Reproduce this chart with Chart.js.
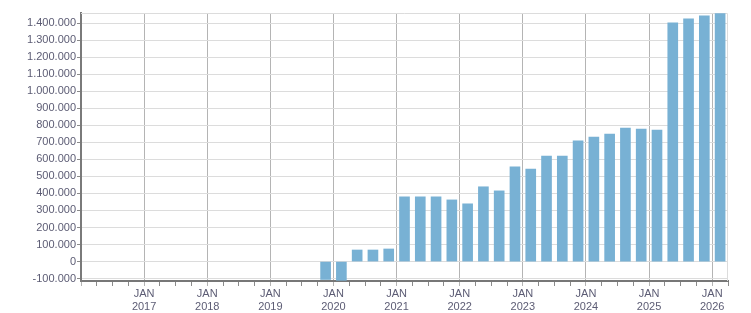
<!DOCTYPE html>
<html>
<head>
<meta charset="utf-8">
<script src="https://cdn.jsdelivr.net/npm/chart.js@4/dist/chart.umd.min.js"></script>
<style>
  html, body { margin: 0; padding: 0; background: #ffffff; }
  #wrap { width: 751px; height: 313px; position: relative; }
</style>
</head>
<body>
<div id="wrap"><canvas id="chart"></canvas></div>
<script>
  // quarterly values
  const quarters = [
    "2019-Q4",
    "2020-Q1", "2020-Q2", "2020-Q3", "2020-Q4",
    "2021-Q1", "2021-Q2", "2021-Q3", "2021-Q4",
    "2022-Q1", "2022-Q2", "2022-Q3", "2022-Q4",
    "2023-Q1", "2023-Q2", "2023-Q3", "2023-Q4",
    "2024-Q1", "2024-Q2", "2024-Q3", "2024-Q4",
    "2025-Q1", "2025-Q2", "2025-Q3", "2025-Q4",
    "2026-Q1"
  ];
  const values = [
    -105000,
    -110000, 68000, 68000, 74000,
    380000, 380000, 380000, 362000,
    339000, 439000, 415000, 556000,
    543000, 619000, 619000, 708000,
    731000, 749000, 784000, 778000,
    772000, 1402000, 1425000, 1443000,
    1455000
  ];
  const yearLabels = [2017, 2018, 2019, 2020, 2021, 2022, 2023, 2024, 2025, 2026];
  const monthLabel = "JAN";
  const yTickValues = [
    -100000, 0, 100000, 200000, 300000, 400000, 500000, 600000,
    700000, 800000, 900000, 1000000, 1100000, 1200000, 1300000, 1400000
  ];

  const textColor = "#5c5c74";
  const font = { family: "Liberation Sans", size: 11 };

  function quarterMid(label) {
    const [year, q] = label.split("-Q");
    return Number(year) + (Number(q) - 1) * 0.25 + 0.125;
  }

  function formatThousands(value) {
    const sign = value < 0 ? "-" : "";
    return sign + String(Math.abs(Math.round(value))).replace(/\B(?=(\d{3})+(?!\d))/g, ".");
  }

  const isYear = (v) => Math.abs(v - Math.round(v)) < 1e-9;

  const framePlugin = {
    id: "frame",
    beforeDatasetsDraw(chart) {
      const { ctx, chartArea } = chart;
      ctx.save();
      ctx.strokeStyle = "#dcdcdc";
      ctx.lineWidth = 1;
      ctx.beginPath();
      ctx.moveTo(chartArea.left, chartArea.top + 0.5);
      ctx.lineTo(chartArea.right - 0.5, chartArea.top + 0.5);
      ctx.lineTo(chartArea.right - 0.5, chartArea.bottom);
      ctx.stroke();
      ctx.restore();
    }
  };

  new Chart(document.getElementById("chart"), {
    type: "bar",
    data: {
      datasets: [
        {
          data: quarters.map((q, i) => ({ x: quarterMid(q), y: values[i] })),
          backgroundColor: "#78b1d4",
          borderWidth: 0,
          barThickness: 10
        }
      ]
    },
    options: {
      responsive: true,
      maintainAspectRatio: false,
      animation: false,
      layout: { padding: { top: 13, right: 23, left: 0, bottom: 0 } },
      plugins: {
        legend: { display: false },
        tooltip: { enabled: false }
      },
      scales: {
        x: {
          type: "linear",
          min: 2016,
          max: 2026.25,
          offset: false,
          afterBuildTicks(scale) {
            const ticks = [];
            for (let k = 0; k <= 41; k++) {
              ticks.push({ value: 2016 + k * 0.25 });
            }
            scale.ticks = ticks;
          },
          afterFit(scale) {
            scale.height = 32;
          },
          border: { display: true, color: "#777777", width: 2 },
          grid: {
            offset: false,
            drawOnChartArea: true,
            tickLength: 5,
            color(ctx) {
              const v = ctx.tick ? ctx.tick.value : 0;
              return isYear(v) && v > 2016 && v < 2026.25 ? "#b4b4b4" : "rgba(0,0,0,0)";
            },
            tickColor(ctx) {
              const v = ctx.tick ? ctx.tick.value : 0;
              return isYear(v) ? "#b4b4b4" : "#8a8a8a";
            }
          },
          ticks: {
            autoSkip: false,
            maxRotation: 0,
            minRotation: 0,
            padding: 1,
            color: textColor,
            font: font,
            callback(value) {
              if (!isYear(value)) return "";
              const y = Math.round(value);
              return yearLabels.includes(y) ? [monthLabel, String(y)] : "";
            }
          }
        },
        y: {
          min: -114000,
          max: 1459000,
          afterBuildTicks(scale) {
            scale.ticks = yTickValues.map((v) => ({ value: v }));
          },
          afterFit(scale) {
            scale.width = 81;
          },
          border: { display: true, color: "#7a7a7a", width: 2 },
          grid: {
            color: "#dcdcdc",
            tickLength: 4,
            tickColor: "#8a8a8a"
          },
          ticks: {
            autoSkip: false,
            padding: 1,
            color: textColor,
            font: font,
            callback(value) {
              return formatThousands(value);
            }
          }
        }
      }
    },
    plugins: [framePlugin]
  });
</script>
</body>
</html>
